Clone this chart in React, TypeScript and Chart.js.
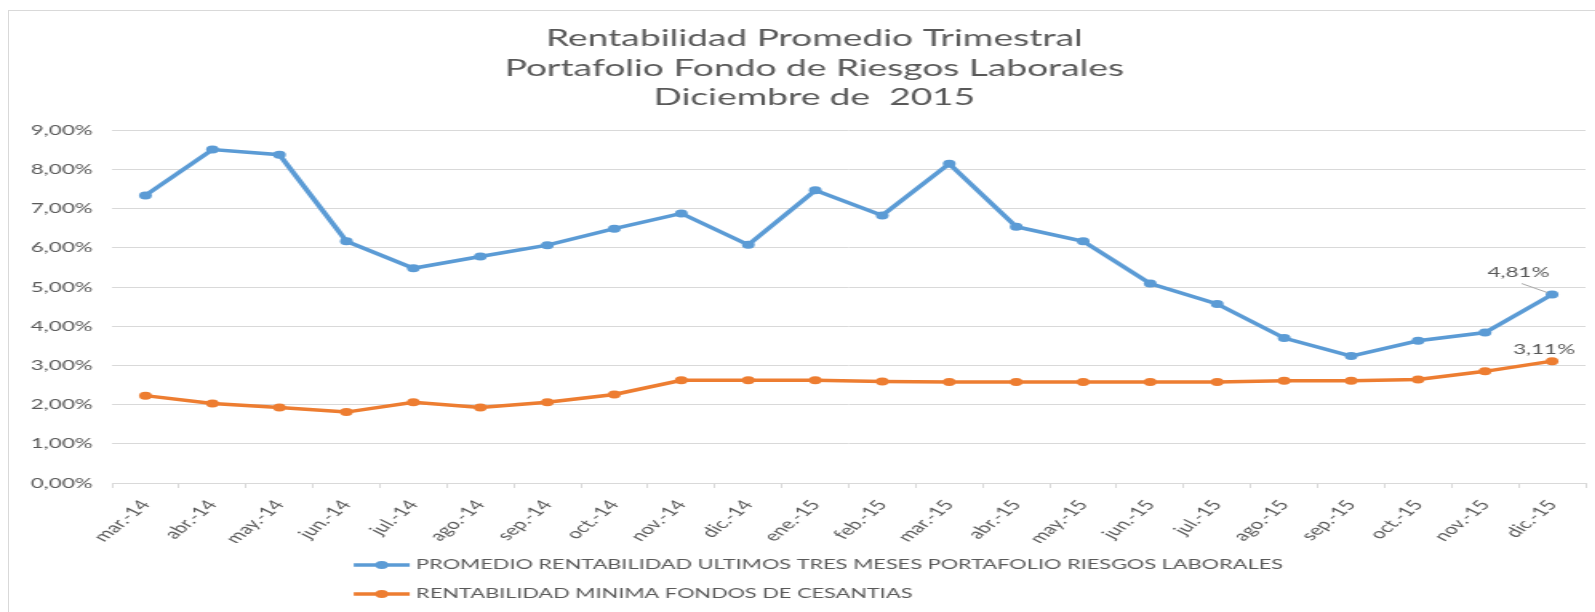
import React, { useEffect, useRef } from 'react';
import { Chart, registerables } from 'chart.js';

Chart.register(...registerables);

const categories = [
  'mar.-14', 'abr.-14', 'may.-14', 'jun.-14', 'jul.-14', 'ago.-14', 'sep.-14', 'oct.-14',
  'nov.-14', 'dic.-14', 'ene.-15', 'feb.-15', 'mar.-15', 'abr.-15', 'may.-15', 'jun.-15',
  'jul.-15', 'ago.-15', 'sep.-15', 'oct.-15', 'nov.-15', 'dic.-15',
];

const promedioRiesgosLaborales = [
  7.34, 8.51, 8.38, 6.17, 5.48, 5.78, 6.07, 6.49, 6.88, 6.08, 7.47,
  6.83, 8.15, 6.54, 6.17, 5.09, 4.57, 3.70, 3.24, 3.63, 3.84, 4.81,
];

const minimaCesantias = [
  2.23, 2.03, 1.93, 1.81, 2.06, 1.93, 2.06, 2.26, 2.62, 2.62, 2.62,
  2.59, 2.58, 2.58, 2.58, 2.58, 2.58, 2.61, 2.61, 2.64, 2.85, 3.11,
];

const seriesNames = [
  'PROMEDIO RENTABILIDAD ULTIMOS TRES MESES PORTAFOLIO RIESGOS LABORALES',
  'RENTABILIDAD MINIMA FONDOS DE CESANTIAS',
];

const titleLines = [
  'Rentabilidad Promedio Trimestral',
  'Portafolio Fondo de Riesgos Laborales',
  'Diciembre de  2015',
];

const yMin = 0;
const yMax = 9;
const yStep = 1;

// layout / style constants
const STRETCH = 1.6;
const PAGE_W = 1595;
const PAGE_H = 612;
const INNER_W = 1005; // a little wider than the visible 997px; the extra is clipped
const PAD_LEFT = 19;
const PAD_RIGHT = 6;
const RIGHT_GAP = 8;
const LEGEND_SHIFT = 2.5;
const BLUE = '#5B9BD5';
const ORANGE = '#ED7D31';
const TEXT = '#595959';
const GRID = '#d9d9d9';
const FONT = 'Lato';

const fmt = (v: number) => v.toFixed(2).replace('.', ',') + '%';

const labelOffsets = [
  { dx: -21, dy: -22, leader: [-19, -11, -3, -2] },
  { dx: -5, dy: -12, leader: null as null | number[] },
];

const endLabelPlugin = {
  id: 'endLabels',
  afterDatasetsDraw(chart: any) {
    const ctx = chart.ctx;
    ctx.save();
    ctx.font = `14px ${FONT}`;
    ctx.textAlign = 'center';
    ctx.textBaseline = 'middle';
    chart.data.datasets.forEach((ds: any, i: number) => {
      const meta = chart.getDatasetMeta(i);
      const idx = ds.data.length - 1;
      const pt = meta.data[idx];
      if (!pt) return;
      const o = labelOffsets[i];
      if (o.leader) {
        ctx.strokeStyle = '#a6a6a6';
        ctx.lineWidth = 1;
        ctx.beginPath();
        ctx.moveTo(pt.x + o.leader[0], pt.y + o.leader[1]);
        ctx.lineTo(pt.x + o.leader[2], pt.y + o.leader[3]);
        ctx.stroke();
      }
      ctx.fillStyle = TEXT;
      ctx.fillText(fmt(ds.data[idx]), pt.x + o.dx, pt.y + o.dy);
    });
    ctx.restore();
  },
};

const legendPlugin = {
  id: 'excelLegend',
  afterDraw(chart: any) {
    const ctx = chart.ctx;
    const datasets = chart.data.datasets;
    ctx.save();
    ctx.font = `13.6px ${FONT}`;
    const sample = 35;
    const gap = 4;
    const w0 = sample + gap + ctx.measureText(datasets[0].label).width;
    const cx = (PAD_LEFT + chart.width - PAD_RIGHT) / 2 + LEGEND_SHIFT;
    const x0 = cx - w0 / 2;
    const rows = [chart.height - 47, chart.height - 18];
    datasets.forEach((ds: any, i: number) => {
      const y = rows[i];
      ctx.strokeStyle = ds.borderColor;
      ctx.lineWidth = 3.5;
      ctx.beginPath();
      ctx.moveTo(x0, y);
      ctx.lineTo(x0 + sample, y);
      ctx.stroke();
      ctx.fillStyle = ds.borderColor;
      ctx.beginPath();
      ctx.arc(x0 + sample / 2, y, 4, 0, Math.PI * 2);
      ctx.fill();
      ctx.fillStyle = TEXT;
      ctx.textAlign = 'left';
      ctx.textBaseline = 'middle';
      ctx.fillText(ds.label, x0 + sample + gap, y);
    });
    ctx.restore();
  },
};

export default function App() {
  const canvasRef = useRef<HTMLCanvasElement | null>(null);

  useEffect(() => {
    if (!canvasRef.current) return;
    Chart.defaults.font.family = FONT;
    const chart = new Chart(canvasRef.current, {
      type: 'line',
      data: {
        labels: categories,
        datasets: [
          {
            label: seriesNames[0],
            data: promedioRiesgosLaborales,
            borderColor: BLUE,
            backgroundColor: BLUE,
            borderWidth: 3.5,
            pointRadius: 4,
            pointBorderWidth: 0,
            pointBackgroundColor: BLUE,
            tension: 0,
          },
          {
            label: seriesNames[1],
            data: minimaCesantias,
            borderColor: ORANGE,
            backgroundColor: ORANGE,
            borderWidth: 3.5,
            pointRadius: 4,
            pointBorderWidth: 0,
            pointBackgroundColor: ORANGE,
            tension: 0,
          },
        ],
      },
      options: {
        responsive: false,
        animation: false,
        devicePixelRatio: 1,
        layout: { padding: { left: PAD_LEFT, right: PAD_RIGHT, top: 0, bottom: 69 } },
        plugins: {
          legend: { display: false },
          tooltip: { enabled: false },
          title: {
            display: true,
            text: titleLines,
            color: TEXT,
            font: { family: FONT, size: 23.2, weight: 'normal', lineHeight: 1.27 },
            padding: { top: 24, bottom: 18 },
          },
        },
        scales: {
          x: {
            type: 'category',
            offset: true,
            grid: {
              offset: true,
              drawOnChartArea: false,
              drawTicks: true,
              tickLength: 5,
              color: GRID,
              lineWidth: 1,
            },
            border: { color: GRID, width: 1 },
            ticks: {
              autoSkip: false,
              minRotation: 52,
              maxRotation: 52,
              padding: 9,
              color: TEXT,
              font: { family: FONT, size: 14 },
            },
            afterFit: (s: any) => { s.height = 60; },
          },
          y: {
            min: yMin,
            max: yMax,
            grid: { color: GRID, lineWidth: 1, drawTicks: false },
            border: { display: false },
            ticks: {
              stepSize: yStep,
              padding: 12,
              color: TEXT,
              font: { family: FONT, size: 14 },
              callback: (v: any) => fmt(Number(v)),
            },
            afterFit: (s: any) => { s.width = 51; },
          },
          yRightGap: {
            type: 'linear',
            position: 'right',
            display: true,
            grid: { display: false, drawTicks: false },
            border: { display: false },
            ticks: { display: false },
            afterFit: (s: any) => { s.width = RIGHT_GAP; },
          },
        },
      },
      plugins: [endLabelPlugin, legendPlugin],
    });
    return () => chart.destroy();
  }, []);

  return (
    <div style={{ position: 'absolute', left: 0, top: 0, width: PAGE_W, height: PAGE_H, overflow: 'hidden', background: '#fff' }}>
      <div
        style={{
          position: 'absolute', left: 8, top: 10, width: PAGE_W + 100, height: PAGE_H + 100,
          borderLeft: `1px solid ${GRID}`, borderTop: `1px solid ${GRID}`,
        }}
      />
      <div
        style={{
          position: 'absolute', left: 0, top: 0, width: INNER_W, height: PAGE_H,
          transform: `scaleX(${STRETCH})`, transformOrigin: '0 0',
        }}
      >
        <canvas ref={canvasRef} width={INNER_W} height={PAGE_H} />
      </div>
    </div>
  );
}
